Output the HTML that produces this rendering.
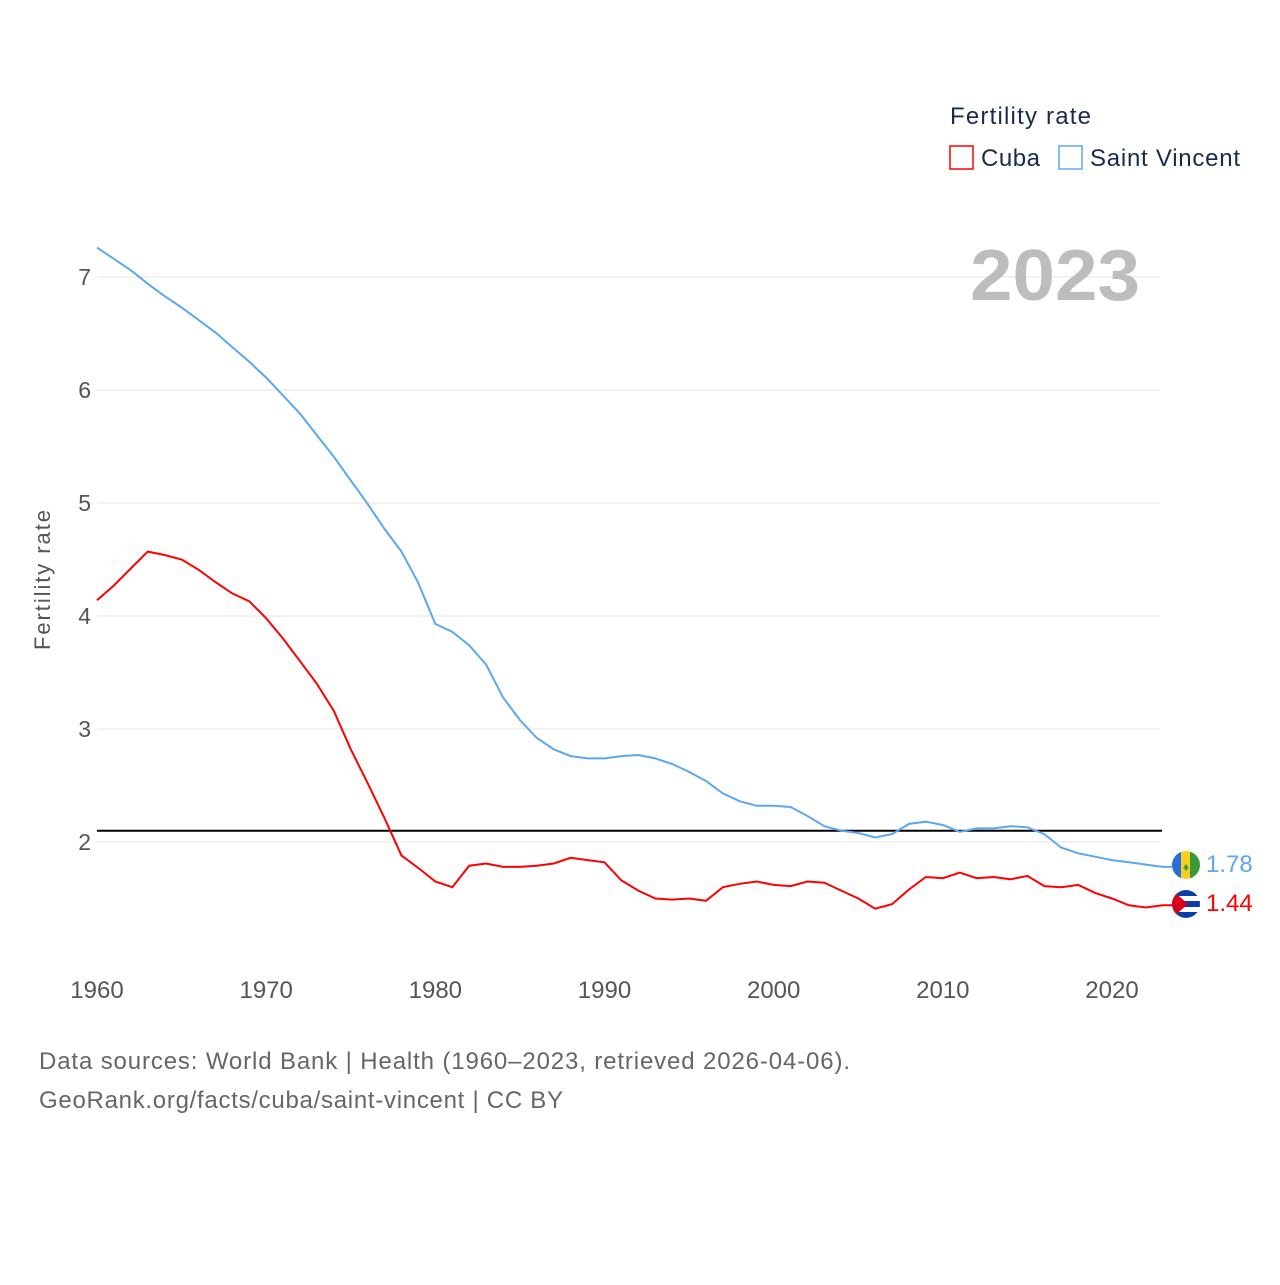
<!DOCTYPE html>
<html><head><meta charset="utf-8"><style>
body{margin:0;background:#fff;font-family:"Liberation Sans",sans-serif;}
svg text{font-family:"Liberation Sans",sans-serif;}
</style></head><body>
<svg width="1280" height="1280">
<defs>
<clipPath id="c1"><circle cx="1186" cy="865" r="14"/></clipPath>
<clipPath id="c2"><circle cx="1186" cy="904" r="14"/></clipPath>
</defs>
<g id="grid"></g>
<g id="yticks"></g>
<g id="xticks"></g>
<text transform="translate(50,580) rotate(-90)" text-anchor="middle" font-size="22" fill="#555" textLength="140">Fertility rate</text>
<text x="970" y="300" font-size="72" font-weight="bold" fill="#bdbdbd" textLength="170" lengthAdjust="spacingAndGlyphs">2023</text>
<text x="950" y="124" font-size="24" fill="#1a2a4a" textLength="141">Fertility rate</text>
<g><rect x="950" y="146" width="23" height="23" fill="none" stroke="#ff0000" stroke-width="1.5"/><text x="981" y="166" font-size="24" fill="#1a2a4a" textLength="59">Cuba</text></g>
<g><rect x="1059" y="146" width="23" height="23" fill="none" stroke="#5ba8f0" stroke-width="1.5"/><text x="1090" y="166" font-size="24" fill="#1a2a4a" textLength="150">Saint Vincent</text></g>
<line id="ref" stroke="#000" stroke-width="2"/>
<path id="svc" fill="none" stroke="#5ba8f0" stroke-width="2"/>
<path id="cub" fill="none" stroke="#ff0000" stroke-width="2"/>
<g clip-path="url(#c1)"><rect x="1172" y="851" width="10" height="28" fill="#2b6fd6"/><rect x="1181" y="851" width="10" height="28" fill="#f8d020"/><rect x="1190" y="851" width="10" height="28" fill="#3a9a3a"/><text x="1186" y="871" font-size="12" fill="#3a9a3a" text-anchor="middle">♦</text></g>
<g clip-path="url(#c2)"><rect x="1172" y="890" width="28" height="28" fill="#fff"/><rect x="1172" y="890" width="28" height="6" fill="#0a3fa8"/><rect x="1172" y="901" width="28" height="6" fill="#0a3fa8"/><rect x="1172" y="912" width="28" height="6" fill="#0a3fa8"/><polygon points="1172,890 1188,904 1172,918" fill="#d9001b"/></g>
<text id="svlab" x="1206" y="872" font-size="24" fill="#5ba8f0">1.78</text>
<text id="cblab" x="1206" y="911" font-size="24" fill="#ff0000">1.44</text>
<text x="39" y="1069" font-size="24" fill="#666" textLength="811">Data sources: World Bank | Health (1960–2023, retrieved 2026-04-06).</text>
<text x="39" y="1108" font-size="24" fill="#666" textLength="524">GeoRank.org/facts/cuba/saint-vincent | CC BY</text>
</svg>
<script>
const years=[];for(let y=1960;y<=2023;y++)years.push(y);
const saintVincent=[7.26,7.16,7.06,6.94,6.83,6.73,6.62,6.51,6.38,6.25,6.11,5.95,5.79,5.60,5.41,5.20,4.99,4.77,4.57,4.29,3.93,3.86,3.74,3.57,3.28,3.08,2.92,2.82,2.76,2.74,2.74,2.76,2.77,2.74,2.69,2.62,2.54,2.43,2.36,2.32,2.32,2.31,2.23,2.14,2.10,2.08,2.04,2.07,2.16,2.18,2.15,2.09,2.12,2.12,2.14,2.13,2.07,1.95,1.90,1.87,1.84,1.82,1.80,1.78];
const cuba=[4.14,4.27,4.42,4.57,4.54,4.50,4.41,4.30,4.20,4.13,3.98,3.80,3.60,3.40,3.16,2.82,2.52,2.21,1.88,1.77,1.65,1.60,1.79,1.81,1.78,1.78,1.79,1.81,1.86,1.84,1.82,1.66,1.57,1.50,1.49,1.50,1.48,1.60,1.63,1.65,1.62,1.61,1.65,1.64,1.57,1.50,1.41,1.45,1.58,1.69,1.68,1.73,1.68,1.69,1.67,1.70,1.61,1.60,1.62,1.55,1.50,1.44,1.42,1.44];
const yTicks=[2,3,4,5,6,7];
const xTicks=[1960,1970,1980,1990,2000,2010,2020];
const refValue=2.1;
const X=y=>97+(y-1960)*(1112-97)/60;
const Y=v=>842-(v-2)*113;
const NS="http://www.w3.org/2000/svg";
const grid=document.getElementById('grid'),yt=document.getElementById('yticks'),xt=document.getElementById('xticks');
yTicks.forEach(v=>{
 const l=document.createElementNS(NS,'line');
 
 
 l.setAttribute('x1',97);l.setAttribute('x2',1160);l.setAttribute('y1',Y(v));l.setAttribute('y2',Y(v));
 l.setAttribute('stroke','#e6e6e6');l.setAttribute('stroke-width','1');grid.appendChild(l);
 const t=document.createElementNS(NS,'text');
 
 
 t.setAttribute('x',91);t.setAttribute('y',Y(v)+8);t.setAttribute('text-anchor','end');t.setAttribute('font-size','23');t.setAttribute('fill','#555');t.textContent=v;yt.appendChild(t);
});
xTicks.forEach(v=>{
 const t=document.createElementNS(NS,'text');
 
 
 t.setAttribute('x',X(v));t.setAttribute('y',998);t.setAttribute('text-anchor','middle');t.setAttribute('font-size','24');t.setAttribute('fill','#555');t.textContent=v;xt.appendChild(t);
});
const ref=document.getElementById('ref');
ref.setAttribute('x1',97);ref.setAttribute('x2',1162);ref.setAttribute('y1',Y(refValue));ref.setAttribute('y2',Y(refValue));
const path=a=>a.map((v,i)=>(i?'L':'M')+X(years[i]).toFixed(1)+','+Y(v).toFixed(1)).join('');
document.getElementById('svc').setAttribute('d',path(saintVincent)+'L1172,'+Y(saintVincent[saintVincent.length-1]).toFixed(1));
document.getElementById('cub').setAttribute('d',path(cuba)+'L1172,'+Y(cuba[cuba.length-1]).toFixed(1));
document.getElementById('svlab').textContent=saintVincent[saintVincent.length-1].toFixed(2);
document.getElementById('cblab').textContent=cuba[cuba.length-1].toFixed(2);
</script>
</body></html>
